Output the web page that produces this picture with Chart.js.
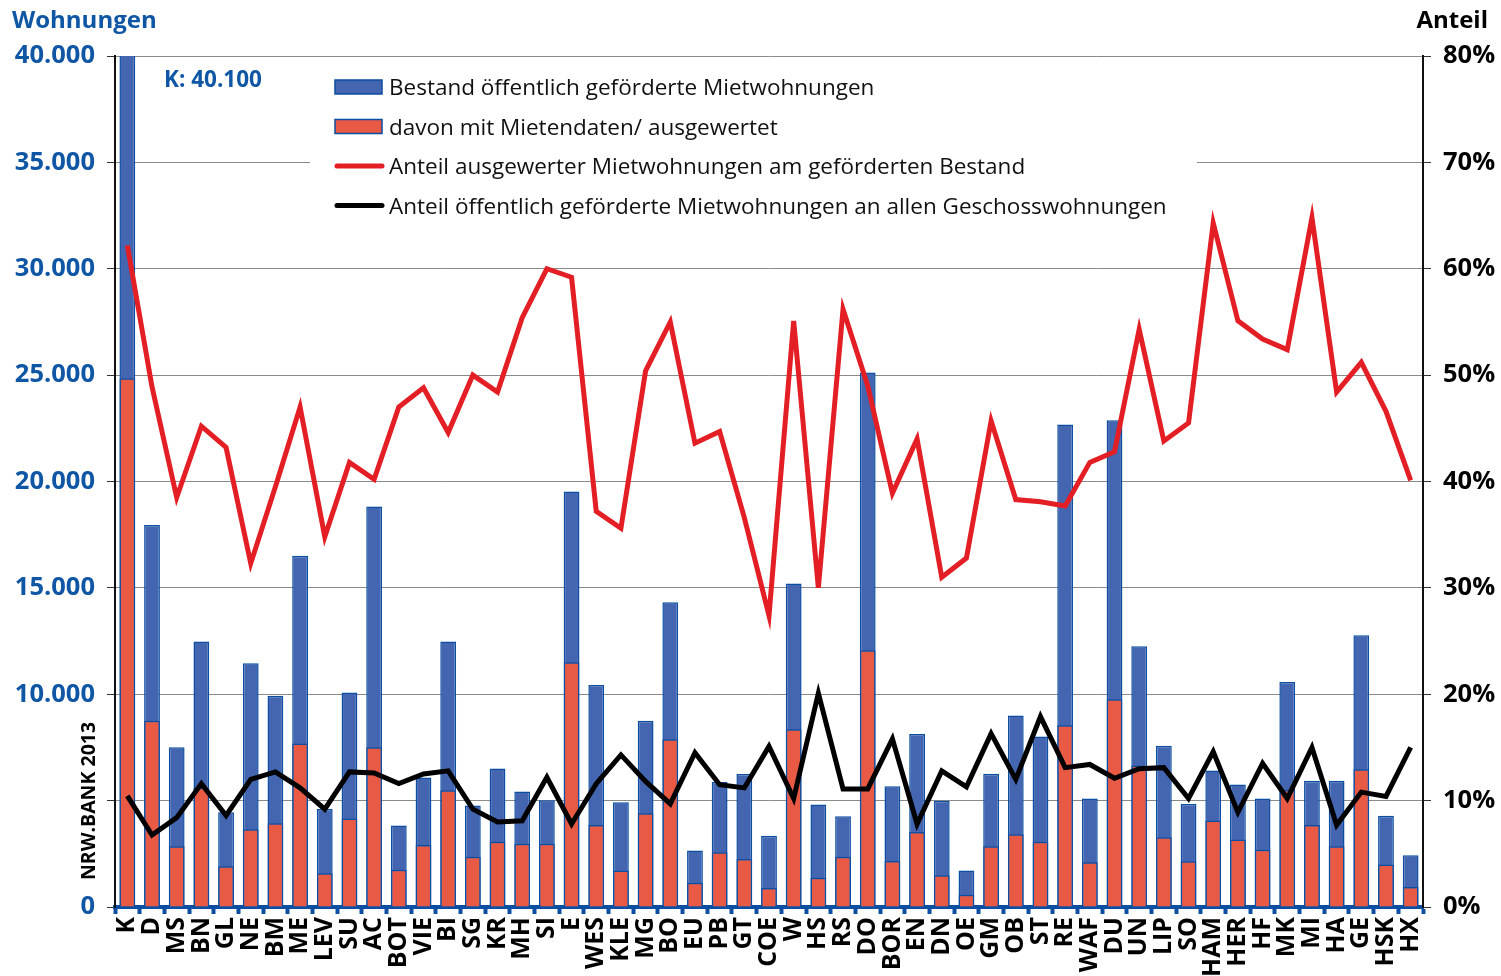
<!DOCTYPE html>
<html>
<head>
<meta charset="utf-8">
<script src="https://cdn.jsdelivr.net/npm/chart.js@4/dist/chart.umd.min.js"></script>
<style>
  html, body { margin: 0; padding: 0; background: #fff; }
  #wrap { width: 1501px; height: 976px; }
</style>
</head>
<body>
<div id="wrap"><canvas id="chart" width="1501" height="976"></canvas></div>
<script>
// Kreise / kreisfreie Städte
var kreise = ['K', 'D', 'MS', 'BN', 'GL', 'NE', 'BM', 'ME', 'LEV', 'SU', 'AC', 'BOT', 'VIE', 'BI', 'SG', 'KR', 'MH', 'SI', 'E', 'WES',
    'KLE', 'MG', 'BO', 'EU', 'PB', 'GT', 'COE', 'W', 'HS', 'RS', 'DO', 'BOR', 'EN', 'DN', 'OE', 'GM', 'OB', 'ST', 'RE', 'WAF',
    'DU', 'UN', 'LIP', 'SO', 'HAM', 'HER', 'HF', 'MK', 'MI', 'HA', 'GE', 'HSK', 'HX'];

// Bestand öffentlich geförderte Mietwohnungen
var bestand = [40100, 17950, 7510, 12480, 4450, 11460, 9930, 16510, 4610, 10080, 18820, 3830, 6090, 12480, 4770, 6510, 5430, 5020, 19530, 10440,
    4920, 8760, 14320, 2660, 5880, 6250, 3350, 15200, 4820, 4270, 25120, 5670, 8130, 4990, 1710, 6260, 9000, 8010, 22680, 5100,
    22880, 12260, 7580, 4840, 6420, 5760, 5100, 10580, 5930, 5930, 12770, 4290, 2430];

// davon mit Mietendaten / ausgewertet
var ausgewertet = [24850, 8760, 2860, 5600, 1910, 3650, 3940, 7680, 1590, 4160, 7510, 1750, 2910, 5490, 2360, 3070, 2970, 2970, 11500, 3850,
    1710, 4410, 7880, 1140, 2570, 2260, 890, 8350, 1380, 2360, 12070, 2160, 3530, 1490, 570, 2850, 3420, 3070, 8540, 2100,
    9770, 6650, 3280, 2150, 4070, 3170, 2690, 5500, 3850, 2850, 6480, 2000, 940];

// Anteil ausgewerteter Mietwohnungen am geförderten Bestand (%)
var anteilAusgewertet = [62.2, 48.9, 38.5, 45.2, 43.2, 32.3, 39.5, 47.0, 34.8, 41.8, 40.2, 47.0, 48.8, 44.6, 50.0, 48.4, 55.4, 60.0, 59.2, 37.2,
    35.6, 50.4, 55.0, 43.6, 44.7, 36.6, 27.4, 55.1, 30.0, 56.2, 49.0, 38.9, 44.0, 31.0, 32.8, 45.7, 38.3, 38.1, 37.7, 41.8,
    42.8, 54.3, 43.8, 45.5, 64.3, 55.1, 53.4, 52.4, 64.8, 48.4, 51.2, 46.6, 40.1];

// Anteil öffentlich geförderter Mietwohnungen an allen Geschosswohnungen (%)
var anteilGeschoss = [10.45, 6.77, 8.4, 11.6, 8.6, 12.0, 12.7, 11.2, 9.2, 12.7, 12.6, 11.6, 12.5, 12.8, 9.2, 8.0, 8.1, 12.2, 7.8, 11.6,
    14.3, 11.8, 9.7, 14.5, 11.5, 11.2, 15.1, 10.2, 20.1, 11.1, 11.1, 15.8, 7.8, 12.8, 11.3, 16.3, 12.0, 17.9, 13.1, 13.4,
    12.1, 13.0, 13.1, 10.2, 14.6, 8.9, 13.5, 10.2, 15.0, 7.7, 10.8, 10.4, 15.0];

var leftTicks = [0, 5000, 10000, 15000, 20000, 25000, 30000, 35000, 40000];
var rightTicks = [0, 10, 20, 30, 40, 50, 60, 70, 80];

var BLUE = '#4466b0', BLUE_EDGE = '#0b4ea2', RED_BAR = '#e85a44', RED_LINE = '#e31e24', TEXT_BLUE = '#0f56a4';
var FONT = '"Open Sans", "DejaVu Sans", sans-serif';

function fmtDE(v) {
    // 5.000 steht im Original nicht dran (dort sitzt der NRW.BANK-Vermerk)
    if (v === 5000) return '';
    return String(v).replace(/\B(?=(\d{3})+(?!\d))/g, '.');
}

var legendItems = [
    { type: 'box', fill: BLUE, text: 'Bestand öffentlich geförderte Mietwohnungen' },
    { type: 'box', fill: RED_BAR, text: 'davon mit Mietendaten/ ausgewertet' },
    { type: 'line', color: RED_LINE, text: 'Anteil ausgewerter Mietwohnungen am geförderten Bestand' },
    { type: 'line', color: '#000', text: 'Anteil öffentlich geförderte Mietwohnungen an allen Geschosswohnungen' }
];

// eigene Legende + Beschriftungen
var extras = {
    id: 'extras',
    beforeDatasetsDraw: function(chart) {
        var ctx = chart.ctx;
        ctx.save();
        ctx.fillStyle = '#fff';
        ctx.fillRect(310, 64, 887, 158);
        ctx.font = '22.5px ' + FONT;
        ctx.textBaseline = 'middle';
        legendItems.forEach(function(it, i) {
            var y = 87 + i * 39.5;
            if (it.type === 'box') {
                ctx.fillStyle = it.fill;
                ctx.fillRect(335, y - 7, 47, 14);
                ctx.strokeStyle = BLUE_EDGE;
                ctx.lineWidth = 1.5;
                ctx.strokeRect(335, y - 7, 47, 14);
            } else {
                ctx.strokeStyle = it.color;
                ctx.lineWidth = 5;
                ctx.lineCap = 'round';
                ctx.beginPath();
                ctx.moveTo(337, y);
                ctx.lineTo(382, y);
                ctx.stroke();
            }
            ctx.fillStyle = '#111';
            ctx.fillText(it.text, 389, y + 2);
        });
        ctx.restore();
    },
    afterDraw: function(chart) {
        var ctx = chart.ctx;
        ctx.save();
        ctx.textBaseline = 'middle';
        ctx.font = 'bold 24px ' + FONT;
        ctx.fillStyle = TEXT_BLUE;
        ctx.textAlign = 'left';
        ctx.fillText('Wohnungen', 12, 21);
        ctx.fillStyle = '#000';
        ctx.textAlign = 'right';
        ctx.fillText('Anteil', 1488, 21);

        ctx.font = 'bold 22.5px ' + FONT;
        ctx.fillStyle = TEXT_BLUE;
        ctx.textAlign = 'left';
        ctx.fillText('K: 40.100', 164, 81);

        ctx.translate(89, 801);
        ctx.rotate(-Math.PI / 2);
        ctx.font = 'bold 19.5px ' + FONT;
        ctx.fillStyle = '#000';
        ctx.textAlign = 'center';
        ctx.fillText('NRW.BANK 2013', 0, 0);
        ctx.restore();
    }
};

var ctx = document.getElementById('chart').getContext('2d');
new Chart(ctx, {
    type: 'bar',
    data: {
        labels: kreise,
        datasets: [
            {
                type: 'bar',
                label: 'Bestand öffentlich geförderte Mietwohnungen',
                data: bestand,
                backgroundColor: BLUE,
                borderColor: BLUE_EDGE,
                borderWidth: 1.5,
                grouped: false,
                barPercentage: 0.64,
                categoryPercentage: 1,
                yAxisID: 'y',
                order: 4
            },
            {
                type: 'bar',
                label: 'davon mit Mietendaten/ ausgewertet',
                data: ausgewertet,
                backgroundColor: RED_BAR,
                borderColor: BLUE_EDGE,
                borderWidth: 1.5,
                grouped: false,
                barPercentage: 0.64,
                categoryPercentage: 1,
                yAxisID: 'y',
                order: 3
            },
            {
                type: 'line',
                label: 'Anteil ausgewerter Mietwohnungen am geförderten Bestand',
                data: anteilAusgewertet,
                borderColor: RED_LINE,
                borderWidth: 5,
                pointRadius: 0,
                tension: 0,
                yAxisID: 'y1',
                order: 2
            },
            {
                type: 'line',
                label: 'Anteil öffentlich geförderte Mietwohnungen an allen Geschosswohnungen',
                data: anteilGeschoss,
                borderColor: '#000',
                borderWidth: 5,
                pointRadius: 0,
                tension: 0,
                yAxisID: 'y1',
                order: 1
            }
        ]
    },
    options: {
        responsive: false,
        animation: false,
        layout: { padding: { top: 56, left: 0, right: 0, bottom: 0 } },
        plugins: {
            legend: { display: false },
            tooltip: { enabled: false }
        },
        scales: {
            x: {
                grid: {
                    offset: true,
                    drawOnChartArea: false,
                    drawTicks: true,
                    tickLength: 7,
                    tickWidth: 4,
                    tickColor: BLUE_EDGE
                },
                border: { color: BLUE_EDGE, width: 4 },
                ticks: {
                    autoSkip: false,
                    maxRotation: 90,
                    minRotation: 90,
                    padding: 3,
                    color: '#000',
                    font: { family: FONT, size: 25, weight: 'bold' }
                },
                afterFit: function(scale) { scale.height = 69; }
            },
            y: {
                position: 'left',
                min: 0,
                max: 40000,
                afterBuildTicks: function(scale) {
                    scale.ticks = leftTicks.map(function(v) { return { value: v }; });
                },
                grid: { color: '#8a8a8a', lineWidth: 1, tickLength: 8, tickColor: '#333' },
                border: { color: '#111', width: 2 },
                ticks: {
                    padding: 12,
                    color: TEXT_BLUE,
                    font: { family: FONT, size: 25.5, weight: 'bold' },
                    callback: function(v) { return fmtDE(v); }
                },
                afterFit: function(scale) { scale.width = 115; }
            },
            y1: {
                position: 'right',
                min: 0,
                max: 80,
                afterBuildTicks: function(scale) {
                    scale.ticks = rightTicks.map(function(v) { return { value: v }; });
                },
                grid: { drawOnChartArea: false, tickLength: 8, tickColor: '#333' },
                border: { color: '#111', width: 2 },
                ticks: {
                    padding: 12,
                    color: '#000',
                    font: { family: FONT, size: 25.5, weight: 'bold' },
                    callback: function(v) { return v + '%'; }
                },
                afterFit: function(scale) { scale.width = 78; }
            }
        }
    },
    plugins: [extras]
});
</script>
</body>
</html>
